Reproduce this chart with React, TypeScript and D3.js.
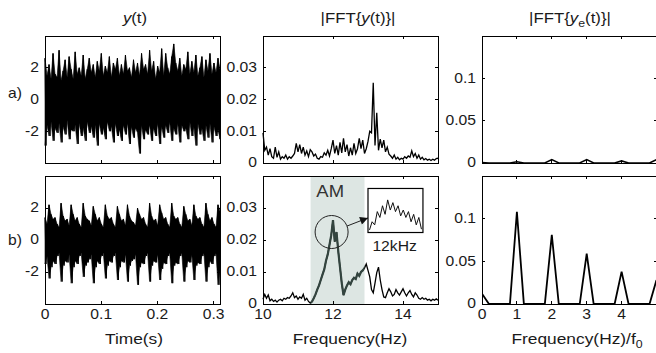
import React from "react";
import * as d3 from "d3";

// ---------------- data ----------------
const timeEnd = 0.3114;
// envelope of y(t) (upper / lower extremes), case a)
const sigTopA = [
  2.6, 1.5, 2.2, 1.3, 2.9, 1.6, 1.4, 3.1, 1.2, 1.8, 2.5,
  1.4, 2.7, 1.9, 1.3, 3.0, 1.6, 2.0, 1.5, 2.8, 1.3, 1.9,
  2.6, 1.7, 2.2, 1.4, 2.4, 1.8, 2.9, 1.5, 2.1, 1.7, 2.7,
  1.4, 2.3, 1.9, 2.6, 1.5, 2.2, 1.6, 2.8, 1.8, 2.0, 1.4,
  2.5, 1.7, 2.3, 1.5, 2.9, 1.9, 2.2, 1.6, 3.1, 1.8, 2.4,
  1.3, 2.1, 1.7, 3.2, 1.5, 2.9, 2.0, 1.6, 2.7, 3.5, 2.3,
  1.8, 2.6, 1.5, 2.2, 1.9, 3.0, 1.6, 2.4, 1.7, 2.8, 1.5,
  2.0, 2.7, 1.4, 2.5, 1.8, 2.9, 1.6, 2.3, 1.7, 2.6, 1.9,
];
const sigBotA = [
  -2.9, -1.6, -2.3, -1.4, -2.6, -1.8, -2.1, -1.5, -2.7, -1.7, -2.2,
  -1.3, -2.5, -1.9, -2.0, -1.6, -2.8, -1.5, -2.3, -1.8, -2.6, -1.4,
  -2.1, -1.7, -2.4, -1.6, -2.9, -1.5, -2.2, -1.8, -2.5, -1.4, -2.0,
  -1.7, -2.7, -1.5, -2.3, -1.9, -2.6, -1.6, -2.2, -1.5, -2.8, -1.7,
  -2.4, -1.8, -2.1, -3.4, -1.6, -2.5, -1.9, -2.2, -1.6, -2.6, -1.8,
  -2.3, -1.5, -2.8, -1.7, -2.4, -1.6, -2.1, -1.4, -2.6, -1.8, -2.2,
  -1.5, -2.7, -1.6, -2.0, -1.8, -2.5, -1.4, -2.3, -1.7, -2.9, -1.5,
  -2.2, -1.8, -2.6, -1.6, -2.4, -1.5, -2.7, -1.7, -2.3, -1.9, -2.5,
];
// case b)
const sigTopB = [
  1.4, 1.0, 2.2, 1.6, 1.3, 1.4, 1.0, 0.8, 2.3, 1.5, 1.2,
  1.3, 0.9, 2.2, 1.6, 1.2, 1.4, 1.0, 0.8, 2.3, 1.5, 1.3,
  1.2, 0.9, 2.1, 1.6, 1.2, 1.4, 1.0, 0.8, 2.2, 1.5, 1.3,
  1.4, 1.0, 0.8, 2.1, 1.6, 1.2, 1.3, 0.9, 2.2, 1.5, 1.2,
  1.1, 0.9, 2.0, 1.6, 1.3, 1.4, 1.0, 0.8, 2.3, 1.5, 1.2,
  1.3, 0.9, 2.2, 1.7, 1.3, 1.4, 1.0, 0.8, 2.3, 1.5, 1.3,
  1.4, 1.0, 0.8, 2.1, 1.6, 1.2, 1.3, 0.9, 2.2, 1.5, 1.3,
  1.4, 1.0, 0.8, 2.3, 1.6, 1.2, 1.4, 1.0, 0.8, 2.2, 1.8,
];
const sigBotB = [
  -1.5, -1.0, -2.4, -1.7, -1.3, -1.5, -1.0, -0.8, -2.6, -1.6, -1.3,
  -1.4, -0.9, -2.7, -1.7, -1.3, -1.5, -1.0, -0.8, -2.3, -1.6, -1.4,
  -1.2, -0.9, -2.7, -1.7, -1.3, -1.5, -1.0, -0.8, -2.4, -1.6, -1.3,
  -1.4, -1.0, -0.8, -2.5, -1.7, -1.3, -1.4, -0.9, -2.6, -1.6, -1.3,
  -1.2, -0.9, -2.8, -1.7, -1.4, -1.5, -1.0, -0.8, -2.6, -1.6, -1.3,
  -1.4, -0.9, -2.5, -1.8, -1.4, -1.5, -1.0, -0.8, -2.7, -1.6, -1.4,
  -1.5, -1.0, -0.8, -2.6, -1.7, -1.3, -1.4, -0.9, -2.5, -1.6, -1.4,
  -1.5, -1.0, -0.8, -2.6, -1.7, -1.3, -1.5, -1.0, -0.8, -2.8, -1.9,
];

// |FFT{y(t)}| from 10 Hz to 15 Hz
const specStart = 10;
const specStep = 0.05;
const specA = [
  0.0095, 0.004, 0.005, 0.0025, 0.0045, 0.002, 0.0015, 0.005, 0.0018, 0.0035,
  0.0012, 0.002, 0.0015, 0.0025, 0.0012, 0.002, 0.0015, 0.0022, 0.003, 0.0062,
  0.0035, 0.0058, 0.003, 0.005, 0.0025, 0.0038, 0.002, 0.0042, 0.0035, 0.0022,
  0.0028, 0.0015, 0.0012, 0.002, 0.0018, 0.0032, 0.0025, 0.004, 0.0022, 0.0045,
  0.0072, 0.003, 0.0055, 0.0025, 0.0065, 0.0032, 0.0078, 0.0035, 0.0058, 0.0022,
  0.0048, 0.0025, 0.0062, 0.003, 0.0045, 0.0078, 0.0045, 0.0072, 0.003, 0.0045,
  0.0068, 0.01, 0.0095, 0.0253, 0.0055, 0.0158, 0.004, 0.0075, 0.0048, 0.0072,
  0.0035, 0.005, 0.0028, 0.0022, 0.0015, 0.0025, 0.0012, 0.0018, 0.001, 0.0015,
  0.0012, 0.002, 0.0015, 0.0022, 0.0018, 0.0038, 0.002, 0.003, 0.0015, 0.0025,
  0.0012, 0.0018, 0.001, 0.0014, 0.0009, 0.0012, 0.0008, 0.0012, 0.0009, 0.0014,
  0.0015,
];
const specB = [
  0.0015, 0.003, 0.0018, 0.0028, 0.001, 0.0015, 0.0008, 0.0012, 0.0006, 0.0012,
  0.0015, 0.001, 0.0018, 0.0015, 0.002, 0.0018, 0.0025, 0.0035, 0.002, 0.0025,
  0.0015, 0.0022, 0.0018, 0.003, 0.0012, 0.0018, 0.0008, 0.0003, 0.0008, 0.0018,
  0.003, 0.0045, 0.0058, 0.0075, 0.0092, 0.0108, 0.0135, 0.0155, 0.0185, 0.0215,
  0.0262, 0.0195, 0.0225, 0.0165, 0.0115, 0.0065, 0.0028, 0.0045, 0.0058, 0.0068,
  0.0062, 0.0075, 0.0082, 0.0078, 0.0095, 0.0088, 0.01, 0.0105, 0.0112, 0.0125,
  0.0105, 0.0085, 0.0045, 0.0035, 0.0065, 0.0098, 0.0115, 0.0075, 0.0045, 0.0022,
  0.002, 0.0035, 0.0048, 0.0038, 0.0025, 0.003, 0.0045, 0.0035, 0.0028, 0.0038,
  0.0048, 0.0035, 0.0025, 0.0035, 0.0042, 0.003, 0.0022, 0.0035, 0.0028, 0.0018,
  0.0015, 0.002, 0.0015, 0.0018, 0.0012, 0.0015, 0.001, 0.0015, 0.0012, 0.0016,
  0.0012,
];

// |FFT{ye(t)}| vs normalised frequency
const harmStep = 0.2;
const harmA = [
  0.0005, 0, 0, 0, 0, 0.0015, 0, 0, 0, 0, 0.004, 0, 0, 0, 0, 0.004, 0, 0, 0, 0,
  0.0025, 0, 0, 0, 0, 0.004,
];
const harmB = [
  0.012, 0, 0, 0, 0, 0.108, 0, 0, 0, 0, 0.081, 0, 0, 0, 0, 0.059, 0, 0, 0, 0,
  0.038, 0, 0, 0, 0, 0.028,
];
// zoomed detail around 12 kHz (relative amplitude)
const insetZoom = [
  0.04, 0.25, 0.17, 0.51, 0.36, 0.66, 0.44, 0.81, 0.55, 0.74, 0.51, 0.66, 0.4,
  0.55, 0.36, 0.51, 0.25, 0.44, 0.17, 0.36, 0.06,
];

const timeTicks = [0, 0.1, 0.2, 0.3];
const sigTicks = [-2, 0, 2];
const freqTicks = [10, 12, 14];
const specTicks = [0, 0.01, 0.02, 0.03];
const harmXTicks = [0, 1, 2, 3, 4, 5];
const harmXLabels = [0, 1, 2, 3, 4];
const harmYTicks = [0, 0.05, 0.1];
const amBand = [11.36, 12.9];
const circleAt = [11.96, 0.0225];
const insetFreq = [13.0, 14.57];
const insetVal = [0.02234, 0.0361];

// ---------------- layout ----------------
const COLS = [
  [45, 220],
  [263, 438],
  [482, 656.5],
];
const ROWS = [
  [36, 163],
  [176, 304],
];
const FONT = "'Liberation Sans', Arial, Helvetica, sans-serif";
const SX = 1.12;
const TXT = "#1a1a1a";

function Txt({ x, y, size, anchor = "middle", fill = TXT, children, dy }: any) {
  return (
    <text
      transform={`translate(${x},${y}) scale(${SX},1)`}
      fontSize={size}
      textAnchor={anchor}
      fontFamily={FONT}
      fill={fill}
      dy={dy}
    >
      {children}
    </text>
  );
}

function Axes({ x, y, xTicks, yTicks, xLabels, yFmt }: any) {
  const [x0, x1] = x.range();
  const [yb, yt] = y.range();
  const L = 3;
  return (
    <g>
      <g stroke="#000" strokeWidth={1} shapeRendering="crispEdges">
        {xTicks.map((t: number) => (
          <g key={"xt" + t}>
            <line x1={x(t)} x2={x(t)} y1={yb} y2={yb - L} />
            <line x1={x(t)} x2={x(t)} y1={yt} y2={yt + L} />
          </g>
        ))}
        {yTicks.map((t: number) => (
          <g key={"yt" + t}>
            <line x1={x0} x2={x0 + L} y1={y(t)} y2={y(t)} />
            <line x1={x1} x2={x1 - L} y1={y(t)} y2={y(t)} />
          </g>
        ))}
        <rect x={x0} y={yt} width={x1 - x0} height={yb - yt} fill="none" />
      </g>
      {yTicks.map((t: number) => (
        <Txt key={"yl" + t} x={x0 - 6} y={y(t)} size={14} anchor="end" dy="0.32em">
          {yFmt ? yFmt(t) : String(t)}
        </Txt>
      ))}
      {xLabels &&
        xLabels.map((t: number) => (
          <Txt key={"xl" + t} x={x(t)} y={yb + 15} size={14}>
            {String(t)}
          </Txt>
        ))}
    </g>
  );
}

function Signal({ top, bot, x, y }: any) {
  const n = Math.min(top.length, bot.length);
  const dt = timeEnd / (n - 1);
  const idx = d3.range(n);
  const area = d3
    .area<number>()
    .x((i) => x(i * dt))
    .y0((i) => y(bot[i]))
    .y1((i) => y(top[i]));
  const pts: [number, number][] = [];
  for (let i = 0; i < n; i++) {
    const t = i * dt;
    pts.push([x(t), y(top[i])]);
    pts.push([x(Math.min(t + dt / 2, timeEnd)), y(bot[i])]);
  }
  return (
    <g>
      <path d={area(idx) as string} fill="#000" stroke="#000" strokeWidth={0.6} />
      <path d={d3.line()(pts) as string} fill="none" stroke="#000" strokeWidth={1} />
    </g>
  );
}

export default function App() {
  const xTime = d3.scaleLinear().domain([0, timeEnd]).range(COLS[0]);
  const xFreq = d3.scaleLinear().domain([10, 15]).range(COLS[1]);
  const xHarm = d3.scaleLinear().domain([0, 5]).range(COLS[2]);
  const ySig = ROWS.map((r) => d3.scaleLinear().domain([-4, 4]).range([r[1], r[0]]));
  const ySpec = ROWS.map((r) => d3.scaleLinear().domain([0, 0.04]).range([r[1], r[0]]));
  const yHarm = ROWS.map((r) => d3.scaleLinear().domain([0, 0.15]).range([r[1], r[0]]));

  const specLine = (ys: any) =>
    d3
      .line<number>()
      .x((_, i) => xFreq(specStart + i * specStep))
      .y((v) => ys(v));
  const harmLine = (ys: any) =>
    d3
      .line<number>()
      .x((_, i) => xHarm(i * harmStep))
      .y((v) => ys(v));

  // circle + arrow + inset
  const cx = xFreq(circleAt[0]);
  const cy = ySpec[1](circleAt[1]);
  const cr = 16.5;
  const bx0 = xFreq(insetFreq[0]);
  const bx1 = xFreq(insetFreq[1]);
  const by0 = ySpec[1](insetVal[1]);
  const by1 = ySpec[1](insetVal[0]);
  const tipX = bx0;
  const tipY = ySpec[1](0.0269);
  const dx = tipX - cx;
  const dy = tipY - cy;
  const dl = Math.hypot(dx, dy);
  const sx = cx + (cr * dx) / dl;
  const sy = cy + (cr * dy) / dl;
  const ix = d3.scaleLinear().domain([0, insetZoom.length - 1]).range([bx0 + 1.5, bx1 - 1.5]);
  const iy = d3.scaleLinear().domain([0, 1]).range([by1 - 1, by0 + 4]);
  const insetPath = d3
    .line<number>()
    .x((_, i) => ix(i))
    .y((v) => iy(v))(insetZoom) as string;

  const bandX0 = xFreq(amBand[0]);
  const bandX1 = xFreq(amBand[1]);

  return (
    <svg
      width={656}
      height={353}
      style={{ position: "absolute", left: 0, top: 0, background: "#fff" }}
      fontFamily={FONT}
    >
      <defs>
        <clipPath id="amclip">
          <rect x={bandX0} y={ROWS[1][0]} width={bandX1 - bandX0} height={ROWS[1][1] - ROWS[1][0]} />
        </clipPath>
        <clipPath id="harmA">
          <rect x={COLS[2][0]} y={ROWS[0][0]} width={COLS[2][1] - COLS[2][0]} height={ROWS[0][1] - ROWS[0][0] + 1} />
        </clipPath>
        <clipPath id="harmB">
          <rect x={COLS[2][0]} y={ROWS[1][0]} width={COLS[2][1] - COLS[2][0]} height={ROWS[1][1] - ROWS[1][0] + 1} />
        </clipPath>
        <marker
          id="arrowHead"
          viewBox="0 0 10 10"
          refX={10}
          refY={5}
          markerWidth={9}
          markerHeight={8}
          markerUnits="userSpaceOnUse"
          orient="auto"
        >
          <path d="M0,0 L10,5 L0,10 z" fill="#111" />
        </marker>
      </defs>
      <rect x={0} y={0} width={656} height={353} fill="#fff" />

      {/* titles */}
      <Txt x={135} y={23} size={15}>
        <tspan fontStyle="italic">y</tspan>(t)
      </Txt>
      <Txt x={358} y={23} size={15}>
        |FFT{"{"}
        <tspan fontStyle="italic">y</tspan>(t){"}"}|
      </Txt>
      <Txt x={570} y={23} size={15}>
        |FFT{"{"}
        <tspan fontStyle="italic">y</tspan>
        <tspan fontSize={11} dy={4}>
          e
        </tspan>
        <tspan dy={-4}>(t){"}"}|</tspan>
      </Txt>

      {/* row labels */}
      <Txt x={8} y={98} size={14} anchor="start">
        a)
      </Txt>
      <Txt x={8} y={245} size={14} anchor="start">
        b)
      </Txt>

      {/* time signals */}
      <Signal top={sigTopA} bot={sigBotA} x={xTime} y={ySig[0]} />
      <Signal top={sigTopB} bot={sigBotB} x={xTime} y={ySig[1]} />
      <Axes x={xTime} y={ySig[0]} xTicks={timeTicks} yTicks={sigTicks} />
      <Axes x={xTime} y={ySig[1]} xTicks={timeTicks} yTicks={sigTicks} xLabels={timeTicks} />

      {/* spectrum a */}
      <path d={specLine(ySpec[0])(specA) as string} fill="none" stroke="#000" strokeWidth={1.3} />
      <Axes x={xFreq} y={ySpec[0]} xTicks={freqTicks} yTicks={specTicks} />

      {/* spectrum b */}
      <rect
        x={bandX0}
        y={ROWS[1][0]}
        width={bandX1 - bandX0}
        height={ROWS[1][1] - ROWS[1][0]}
        fill="#dde6e3"
      />
      <path d={specLine(ySpec[1])(specB) as string} fill="none" stroke="#000" strokeWidth={1.3} />
      <path
        d={specLine(ySpec[1])(specB) as string}
        fill="none"
        stroke="#33443f"
        strokeWidth={2.2}
        clipPath="url(#amclip)"
      />
      <Txt x={xFreq(11.92)} y={ySpec[1](0.0334)} size={16.5} fill="#333">
        AM
      </Txt>
      <circle cx={cx} cy={cy} r={cr} fill="none" stroke="#222" strokeWidth={1} />
      <line x1={sx} y1={sy} x2={tipX} y2={tipY} stroke="#222" strokeWidth={1} markerEnd="url(#arrowHead)" />
      <rect x={bx0} y={by0} width={bx1 - bx0} height={by1 - by0} fill="#fff" stroke="#000" strokeWidth={1.2} />
      <path d={insetPath} fill="none" stroke="#111" strokeWidth={1} />
      <Txt x={xFreq(13.76)} y={ySpec[1](0.0166)} size={14}>
        12kHz
      </Txt>
      <Axes x={xFreq} y={ySpec[1]} xTicks={freqTicks} yTicks={specTicks} xLabels={freqTicks} />

      {/* harmonics */}
      <path
        d={harmLine(yHarm[0])(harmA) as string}
        fill="none"
        stroke="#000"
        strokeWidth={1.6}
        clipPath="url(#harmA)"
      />
      <path
        d={harmLine(yHarm[1])(harmB) as string}
        fill="none"
        stroke="#000"
        strokeWidth={1.8}
        clipPath="url(#harmB)"
      />
      <Axes x={xHarm} y={yHarm[0]} xTicks={harmXTicks} yTicks={harmYTicks} />
      <Axes x={xHarm} y={yHarm[1]} xTicks={harmXTicks} yTicks={harmYTicks} xLabels={harmXLabels} />

      {/* axis labels */}
      <Txt x={134} y={344} size={15.5}>
        Time(s)
      </Txt>
      <Txt x={350} y={344} size={15.5}>
        Frequency(Hz)
      </Txt>
      <Txt x={577} y={344} size={15.5}>
        Frequency(Hz)/f
        <tspan fontSize={11} dy={4}>
          0
        </tspan>
      </Txt>
    </svg>
  );
}
